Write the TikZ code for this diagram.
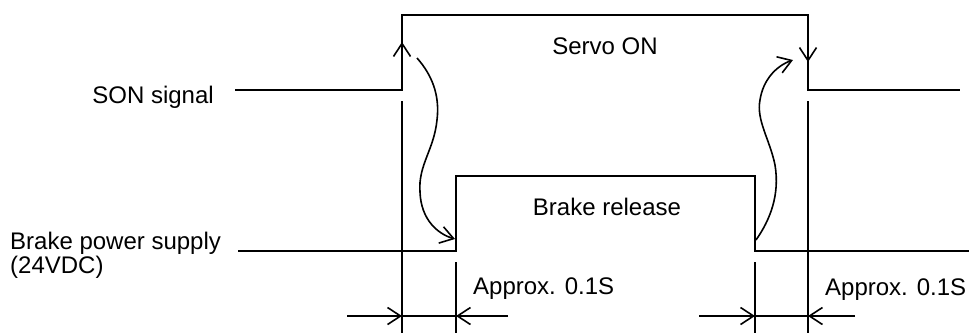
\documentclass[tikz,border=0pt]{standalone}
\usepackage{fontspec}
\setmainfont{Liberation Sans}
\usetikzlibrary{arrows.meta}
\begin{document}
\begin{tikzpicture}[x=1pt,y=-1pt,
  wave/.style={line width=1.8pt, line join=miter},
  thin/.style={line width=1.6pt},
  tip/.style={-{Straight Barb[length=13pt,width=17pt,line width=1.6pt]}},
  lbl/.style={inner sep=0pt, font=\fontsize{24}{24}\selectfont}]
\useasboundingbox (0,0) rectangle (969,333);
% SON signal waveform
\coordinate (s0) at (235,90);
\coordinate (s1) at (402,90);
\coordinate (s2) at (402,15);
\coordinate (s3) at (808,15);
\coordinate (s4) at (808,90);
\coordinate (s5) at (960,90);
\draw[wave] (s0) -- (s1) -- (s2) -- (s3) -- (s4) -- (s5);
% Brake waveform
\coordinate (b0) at (238,251);
\coordinate (b1) at (456,251);
\coordinate (b2) at (456,176);
\coordinate (b3) at (755,176);
\coordinate (b4) at (755,251);
\coordinate (b5) at (969,251);
\draw[wave] (b0) -- (b1) -- (b2) -- (b3) -- (b4) -- (b5);
% edge arrows
\coordinate (ua0) at (402,75);
\coordinate (ua1) at (402,42);
\coordinate (da0) at (808,30);
\coordinate (da1) at (808,62);
\draw[thin,tip] (ua0) -- (ua1);
\draw[thin,tip] (da0) -- (da1);
% extension lines
\coordinate (e1t) at (402,101); \coordinate (e1b) at (402,333);
\coordinate (e2t) at (456,262); \coordinate (e2b) at (456,333);
\coordinate (e3t) at (755,262); \coordinate (e3b) at (755,333);
\coordinate (e4t) at (808,101); \coordinate (e4b) at (808,333);
\draw[thin] (e1t) -- (e1b);
\draw[thin] (e2t) -- (e2b);
\draw[thin] (e3t) -- (e3b);
\draw[thin] (e4t) -- (e4b);
% dimension arrows
\coordinate (d1a) at (347,316); \coordinate (d1b) at (402,316);
\coordinate (d1c) at (456,316); \coordinate (d1d) at (508,316);
\coordinate (d2a) at (699,316); \coordinate (d2b) at (755,316);
\coordinate (d2c) at (808,316); \coordinate (d2d) at (855,316);
\draw[thin,tip] (d1a) -- (d1b);
\draw[thin] (d1b) -- (d1c);
\draw[thin,tip] (d1d) -- (d1c);
\draw[thin,tip] (d2a) -- (d2b);
\draw[thin] (d2b) -- (d2c);
\draw[thin,tip] (d2d) -- (d2c);
% curved arrows
\coordinate (c1s) at (417,58);
\coordinate (c1e) at (455,239);
\draw[thin,tip] (c1s) .. controls (432,75) and (440,95) .. (437,120)
  .. controls (434,150) and (418,165) .. (420,192)
  .. controls (421,220) and (438,234) .. (c1e);
\coordinate (c2s) at (756,240);
\coordinate (c2e) at (793,60);
\draw[thin,tip] (c2s) .. controls (770,220) and (780,195) .. (775,165)
  .. controls (770,140) and (756,120) .. (760,100)
  .. controls (763,80) and (776,66) .. (c2e);
% labels
\node[lbl, anchor=base] (servo) at (605,54) {Servo ON};
\node[lbl, anchor=base] (brel) at (607,215) {Brake release};
\node[lbl, anchor=base east] (son) at (214,103) {SON signal};
\node[lbl, anchor=base west] (bps) at (10,249) {Brake power supply};
\node[lbl, anchor=base west] (v24) at (10,273) {(24VDC)};
\node[lbl, anchor=base west] (ap1) at (473,294) {Approx. 0.1S};
\node[lbl, anchor=base west] (ap2) at (825,295) {Approx. 0.1S};
\end{tikzpicture}
\end{document}
